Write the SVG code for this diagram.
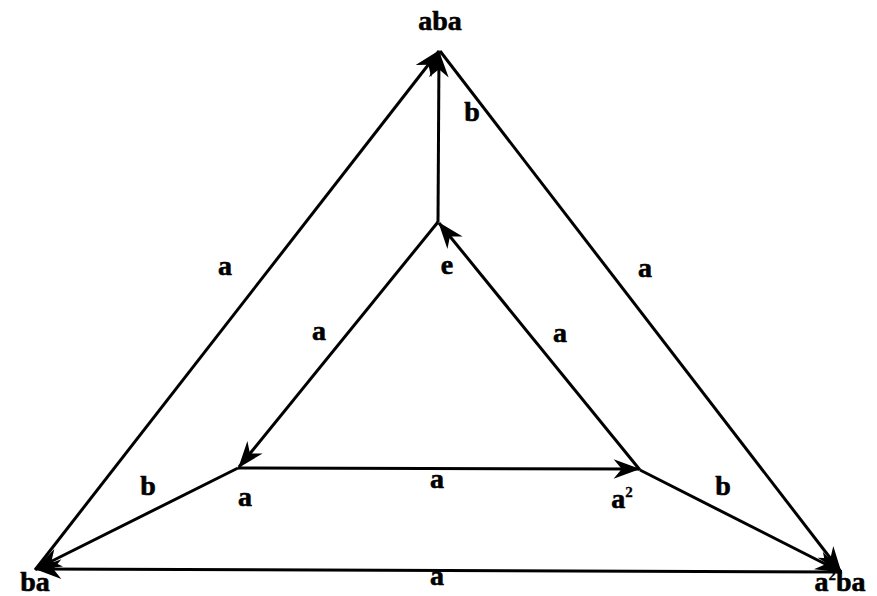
<svg xmlns="http://www.w3.org/2000/svg" width="877" height="596" viewBox="0 0 877 596">
<style>
.edge{stroke:#000;stroke-width:3;fill:none;marker-end:url(#ah)}
text{font-family:"Liberation Serif","Times New Roman",serif;font-weight:bold;font-size:28px;fill:#000;stroke:#000;stroke-width:0.6;text-anchor:middle}
.sup{font-size:15px;stroke-width:0.3}
</style>
<defs>
<marker id="ah" markerUnits="userSpaceOnUse" markerWidth="30" markerHeight="24" viewBox="-24 -10 26 20" refX="0" refY="0" orient="auto">
<path d="M1,0 L-22,-8.5 L-15,0 L-22,8.5 Z" fill="#000"/>
</marker>
</defs>
<rect width="877" height="596" fill="#fff" stroke="none"/>
<g id="connectors">
<line class="edge" x1="35" y1="570" x2="439" y2="51"/>
<line class="edge" x1="440" y1="51" x2="841" y2="572"/>
<line class="edge" x1="842" y1="572" x2="36" y2="569"/>
<line class="edge" x1="438" y1="222" x2="439" y2="52"/>
<line class="edge" x1="438" y1="222" x2="239" y2="467"/>
<line class="edge" x1="238" y1="468" x2="639" y2="469"/>
<line class="edge" x1="640" y1="470" x2="439" y2="223"/>
<line class="edge" x1="238" y1="468" x2="36" y2="569"/>
<line class="edge" x1="640" y1="470" x2="841" y2="572"/>
</g>
<g id="edge-labels">
<text x="225" y="275">a</text>
<text x="645" y="277">a</text>
<text x="437" y="585">a</text>
<text x="472" y="121">b</text>
<text x="319" y="340">a</text>
<text x="560" y="342">a</text>
<text x="437" y="488">a</text>
<text x="148" y="495">b</text>
<text x="723" y="495">b</text>
</g>
<g id="node-aba"><text x="440" y="30">aba</text></g>
<g id="node-e"><text x="447" y="274">e</text></g>
<g id="node-a"><text x="245" y="506">a</text></g>
<g id="node-a2"><text x="622" y="508">a<tspan class="sup" dy="-11">2</tspan></text></g>
<g id="node-ba"><text x="35" y="591">ba</text></g>
<g id="node-a2ba"><text x="840" y="591">a<tspan class="sup" dy="-11">2</tspan><tspan dy="11">ba</tspan></text></g>
</svg>
